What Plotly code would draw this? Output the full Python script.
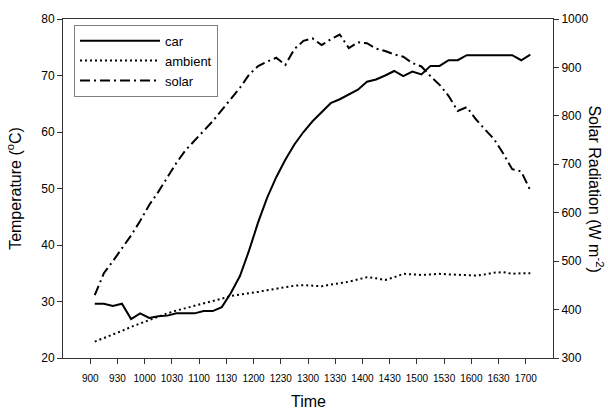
import plotly.graph_objects as go

# time of day in minutes since midnight (10-minute sampling, 9:05 .. 17:05)
time_min = [545 + 10 * i for i in range(49)]

car = [29.6, 29.6, 29.2, 29.6, 26.9, 27.9, 27.1, 27.4, 27.5, 27.9,
       27.9, 27.9, 28.3, 28.3, 29.0, 31.5, 34.5, 39.0, 44.0, 48.4,
       52.0, 55.1, 57.8, 60.0, 61.9, 63.5, 65.1, 65.8, 66.6, 67.5,
       68.9, 69.3, 70.0, 70.8, 69.9, 70.7, 70.2, 71.7, 71.7, 72.7,
       72.7, 73.6, 73.6, 73.6, 73.6, 73.6, 73.6, 72.7, 73.7]

ambient = [22.9, 23.5, 24.1, 24.8, 25.5, 26.1, 26.8, 27.4, 27.9, 28.4,
           28.8, 29.2, 29.6, 30.0, 30.5, 31.0, 31.2, 31.4, 31.7, 32.0,
           32.3, 32.5, 32.8, 32.9, 32.8, 32.7, 33.0, 33.2, 33.5, 33.9,
           34.3, 34.1, 33.8, 34.3, 34.9, 34.8, 34.7, 34.8, 34.9, 34.8,
           34.7, 34.7, 34.6, 34.8, 35.1, 35.2, 34.9, 35.0, 35.0]

solar = [430, 475, 500, 526, 553, 583, 616, 643, 674, 703,
         729, 750, 769, 789, 812, 836, 858, 885, 903, 912,
         920, 905, 938, 955, 960, 946, 958, 968, 940, 952,
         950, 939, 934, 927, 922, 909, 902, 882, 864, 841,
         810, 818, 793, 772, 752, 723, 690, 685, 646]

tick_hours = [9 + 0.5 * i for i in range(17)]
tick_labels = ["900", "930", "1000", "1030", "1100", "1130", "1200", "1230",
               "1300", "1330", "1400", "1430", "1500", "1530", "1600", "1630", "1700"]

hours = [m / 60 for m in time_min]

FONT = "Liberation Sans, Arial, sans-serif"
AX = "#333333"

fig = go.Figure()
fig.add_trace(go.Scatter(x=hours, y=car, name="car", mode="lines",
                         line=dict(color="black", width=2, dash="solid")))
fig.add_trace(go.Scatter(x=hours, y=ambient, name="ambient", mode="lines",
                         line=dict(color="black", width=2, dash="2px,3px")))
fig.add_trace(go.Scatter(x=hours, y=solar, name="solar", mode="lines", yaxis="y2",
                         line=dict(color="black", width=2, dash="10px,4px,2px,4px")))

fig.update_layout(
    width=608, height=411,
    margin=dict(l=63, r=55, t=15, b=53),
    paper_bgcolor="white", plot_bgcolor="white",
    font=dict(family=FONT, color="black"),
    showlegend=True,
    legend=dict(x=0.0224, y=0.983, xanchor="left", yanchor="top",
                bordercolor="#808080", borderwidth=1, bgcolor="white",
                font=dict(size=13, family=FONT), itemwidth=80,
                tracegroupgap=0),
    xaxis=dict(range=[8.5, 17.5], tickmode="array", tickvals=tick_hours,
               ticktext=tick_labels, ticks="outside", ticklen=5, tickcolor=AX,
               ticklabelstandoff=6,
               showline=True, linecolor=AX, linewidth=1, mirror=True,
               showgrid=False, zeroline=False,
               tickfont=dict(size=10)),
    yaxis=dict(range=[20, 80], dtick=10, ticks="outside", ticklen=5, tickcolor=AX,
               showline=True, linecolor=AX, linewidth=1, mirror=True,
               showgrid=False, zeroline=False, tickfont=dict(size=12),
               title=dict(text="Temperature (<sup>o</sup>C)", font=dict(size=16))),
    yaxis2=dict(range=[300, 1000], dtick=100, overlaying="y", side="right",
                ticks="outside", ticklen=5, tickcolor=AX,
                showline=True, linecolor=AX, linewidth=1,
                showgrid=False, zeroline=False, tickfont=dict(size=12)),
    annotations=[
        dict(text="Solar Radiation (W m<sup>-2</sup>)", textangle=90,
             xref="paper", yref="paper", x=1.088, y=0.5,
             xanchor="center", yanchor="middle", showarrow=False,
             font=dict(size=16, family=FONT)),
        dict(text="Time", xref="paper", yref="paper", x=0.5, y=-0.128,
             xanchor="center", yanchor="middle", showarrow=False,
             font=dict(size=16, family=FONT)),
    ],
)

fig.write_html("out.html", config={"displayModeBar": False},
               post_script="document.body.style.margin='0px';")
